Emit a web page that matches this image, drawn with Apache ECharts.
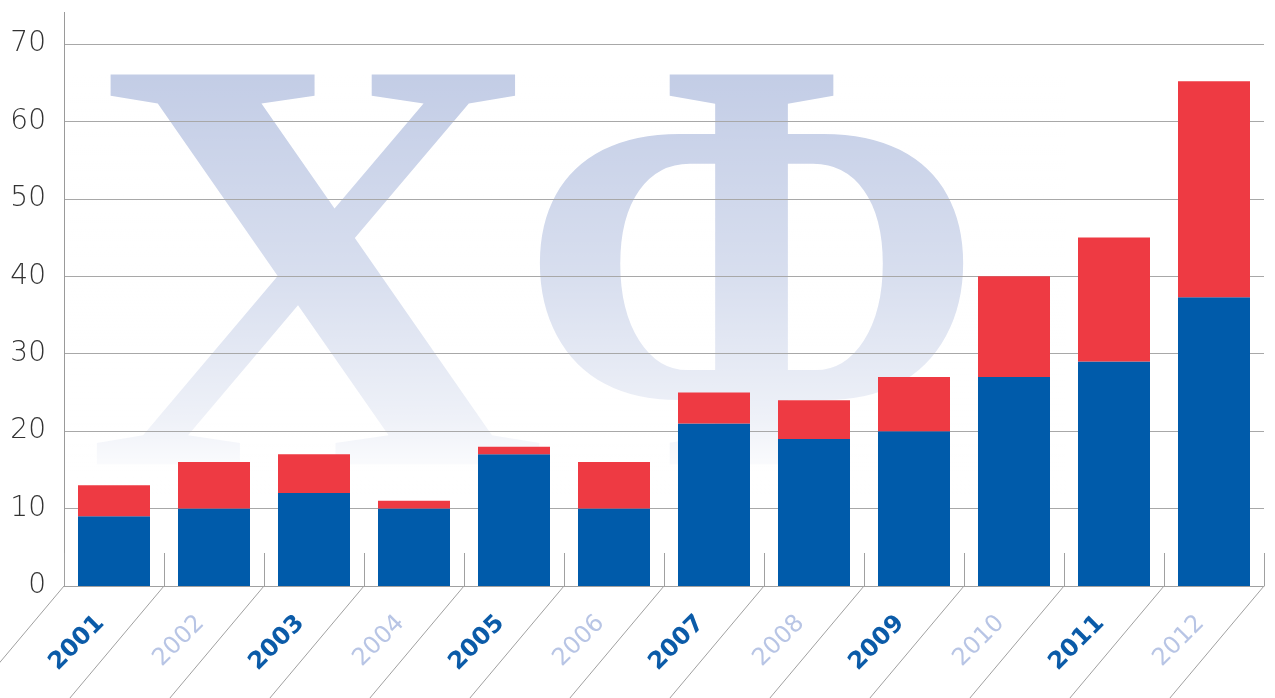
<!DOCTYPE html>
<html>
<head>
<meta charset="utf-8">
<script src="https://cdn.jsdelivr.net/npm/echarts@6/dist/echarts.min.js"></script>
<style>
  html, body { margin: 0; padding: 0; background: #fff; }
  #main { width: 1275px; height: 698px; }
</style>
</head>
<body>
<div id="main"></div>
<script>
// data
var years = ['2001','2002','2003','2004','2005','2006','2007','2008','2009','2010','2011','2012'];
var blueValues = [9, 10, 12, 10, 17, 10, 21, 19, 20, 27, 29, 37.3];
var redValues  = [4, 6, 5, 1, 1, 6, 4, 5, 7, 13, 16, 27.9];
var yTicks = [0, 10, 20, 30, 40, 50, 60, 70];

var myChart = echarts.init(document.getElementById('main'));

// год через один - тёмный/светлый
var catData = years.map(function (y, i) {
    return {
        value: y,
        textStyle: i % 2 === 0
            ? { color: '#0b5ba8', fontWeight: 'bold' }
            : { color: '#b8c5e5', fontWeight: 'normal' }
    };
});

var wmFont = 'bold 595px "Liberation Serif"';

var option = {
    animation: false,
    grid: { left: 64, right: 11, top: 44, bottom: 112 },
    graphic: [
        // продолжение оси Y вверх
        { type: 'line', z: 1, shape: { x1: 64.5, y1: 12, x2: 64.5, y2: 44 },
          style: { stroke: '#9a9a9a', lineWidth: 1 } },
        // водяной знак "ХФ"
        { type: 'text', z: -10, x: 85, y: 13, scaleX: 1.075,
          style: { text: 'Х', font: wmFont, fill: '#c3cde6',
                   textAlign: 'left', textVerticalAlign: 'top' } },
        { type: 'text', z: -10, x: 519, y: 13, scaleX: 0.91,
          style: { text: 'Ф', font: wmFont, fill: '#c3cde6',
                   textAlign: 'left', textVerticalAlign: 'top' } },
        // затухание книзу
        { type: 'rect', z: -5, shape: { x: 66, y: 74, width: 1000, height: 420 },
          style: {
              fill: new echarts.graphic.LinearGradient(0, 0, 0, 1, [
                  { offset: 0, color: 'rgba(255,255,255,0)' },
                  { offset: 0.48, color: 'rgba(255,255,255,0.35)' },
                  { offset: 0.82, color: 'rgba(255,255,255,0.72)' },
                  { offset: 0.92, color: 'rgba(255,255,255,0.9)' },
                  { offset: 1, color: 'rgba(255,255,255,1)' }
              ])
          } }
    ],
    xAxis: {
        type: 'category',
        data: catData,
        axisLine: { lineStyle: { color: '#a0a0a0', width: 1 } },
        axisTick: { show: true, inside: true, length: 33, interval: 0,
                    lineStyle: { color: '#a0a0a0' } },
        axisLabel: {
            interval: 0,
            rotate: 45,
            margin: 20,
            padding: [0, 19, 0, 0],
            fontSize: 24,
            fontFamily: 'DejaVu Sans'
        }
    },
    yAxis: {
        type: 'value',
        min: yTicks[0],
        max: yTicks[yTicks.length - 1],
        interval: 10,
        axisLine: { show: true, lineStyle: { color: '#9a9a9a' } },
        axisTick: { show: false },
        axisLabel: { color: '#333333', fontSize: 28, fontWeight: 200,
                     fontFamily: '"DejaVu Sans ExtraLight", "DejaVu Sans"', margin: 18 },
        splitLine: { lineStyle: { color: '#a8a8a8', width: 1 } }
    },
    series: [
        {
            name: 'blue',
            type: 'bar',
            stack: 'total',
            barWidth: 72,
            itemStyle: { color: '#005baa' },
            data: blueValues
        },
        {
            name: 'red',
            type: 'bar',
            stack: 'total',
            barWidth: 72,
            itemStyle: { color: '#ee3a43' },
            data: redValues
        },
        {
            // косые разделители под осью
            type: 'custom',
            clip: false,
            silent: true,
            data: years.map(function (y, i) { return [i, 0]; }),
            renderItem: function (params, api) {
                var p = api.coord([api.value(0), 0]);
                var band = api.size([1, 0])[0];
                var xs = [p[0] - band / 2];
                if (params.dataIndex === years.length - 1) xs.push(p[0] + band / 2);
                return {
                    type: 'group',
                    children: xs.map(function (x) {
                        return {
                            type: 'line',
                            shape: { x1: x, y1: p[1], x2: x - 168, y2: p[1] + 200 },
                            style: { stroke: '#a0a0a0', lineWidth: 1 }
                        };
                    })
                };
            }
        }
    ]
};
myChart.setOption(option);
</script>
</body>
</html>
